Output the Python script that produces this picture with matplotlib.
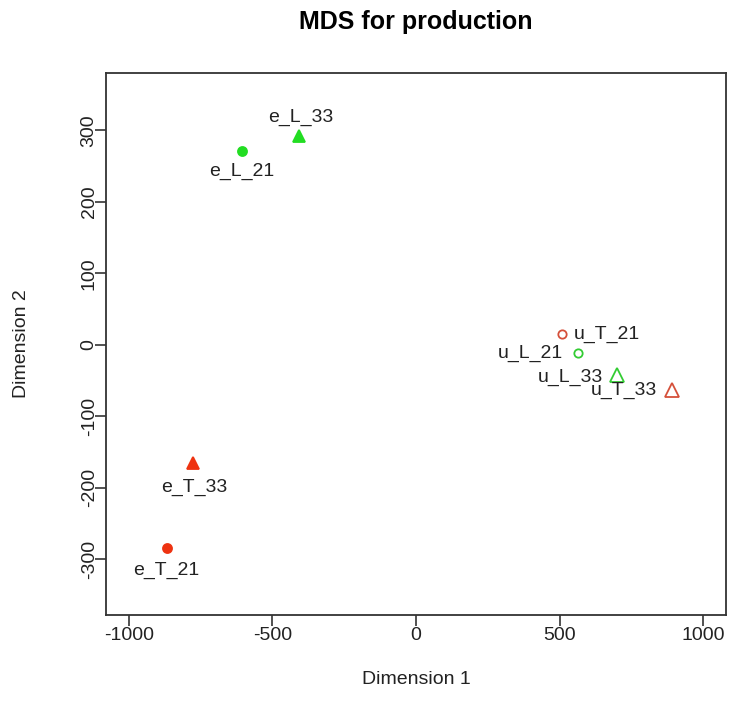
import matplotlib.pyplot as plt

plt.rcParams['font.family'] = ['Liberation Sans', 'DejaVu Sans']
plt.rcParams['axes.unicode_minus'] = False

# MDS coordinates
labels = ["e_L_21", "e_L_33", "e_T_21", "e_T_33", "u_L_21", "u_L_33", "u_T_21", "u_T_33"]
dim1 = [-606, -407, -866, -775, 564, 700, 507, 891]
dim2 = [271, 292, -284, -165, -12, -43, 15, -64]

red = "#EE3311"
red_open = "#D5503A"
green = "#22DD22"
green_open = "#33CC33"

# marker style per point: (marker, face, edge)
styles = {
    "e_L_21": ("o", green, green),
    "e_L_33": ("^", green, green),
    "e_T_21": ("o", red, red),
    "e_T_33": ("^", red, red),
    "u_L_21": ("o", "none", green_open),
    "u_L_33": ("^", "none", green_open),
    "u_T_21": ("o", "none", red_open),
    "u_T_33": ("^", "none", red_open),
}

# label placement (offset in points, horizontal alignment)
placement = {
    "e_L_21": ((0, -15), "center"),
    "e_L_33": ((1, 13), "center"),
    "e_T_21": ((-1, -16.5), "center"),
    "e_T_33": ((1, -18), "center"),
    "u_L_21": ((-11, 0), "right"),
    "u_L_33": ((-10, -1.5), "right"),
    "u_T_21": ((9, -0.5), "left"),
    "u_T_33": ((-11, 0), "right"),
}

fig = plt.figure(figsize=(7.29, 7.17), dpi=100)
ax = fig.add_axes([106 / 729, 1 - 615 / 717, 620 / 729, 542 / 717])

for lab, x, y in zip(labels, dim1, dim2):
    m, fc, ec = styles[lab]
    size = 6.5 if m == "o" else 8
    if fc == "none":
        size = 6 if m == "o" else 10
    ax.plot(x, y, marker=m, markersize=size, markerfacecolor=fc,
            markeredgecolor=ec, markeredgewidth=1.3, linestyle="none")
    off, ha = placement[lab]
    ax.annotate(lab, (x, y), xytext=off, textcoords="offset points",
                ha=ha, va="center", fontsize=14, color="#222222")

ax.set_xlim(-1079, 1079)
ax.set_ylim(-378, 380)
ax.set_xticks([-1000, -500, 0, 500, 1000])
ax.set_yticks([-300, -200, -100, 0, 100, 200, 300])
ax.tick_params(direction="out", length=8, width=1.2, color="#333333",
               labelsize=14, labelcolor="#222222")
ax.tick_params(axis="x", pad=0.5)
ax.tick_params(axis="y", pad=-2)
for lbl in ax.get_yticklabels():
    lbl.set_rotation(90)
    lbl.set_va("center")
for sp in ax.spines.values():
    sp.set_linewidth(1.3)
    sp.set_color("#333333")

fig.text(416 / 729, 1 - 22 / 717, "MDS for production", ha="center", va="center",
         fontsize=18, fontweight="bold")
fig.text(416 / 729, 1 - 680 / 717, "Dimension 1", ha="center", va="center",
         fontsize=14, color="#222222")
fig.text(22 / 729, 1 - 344 / 717, "Dimension 2", ha="center", va="center",
         fontsize=14, color="#222222", rotation=90)

fig.savefig("out.png", dpi=100)
